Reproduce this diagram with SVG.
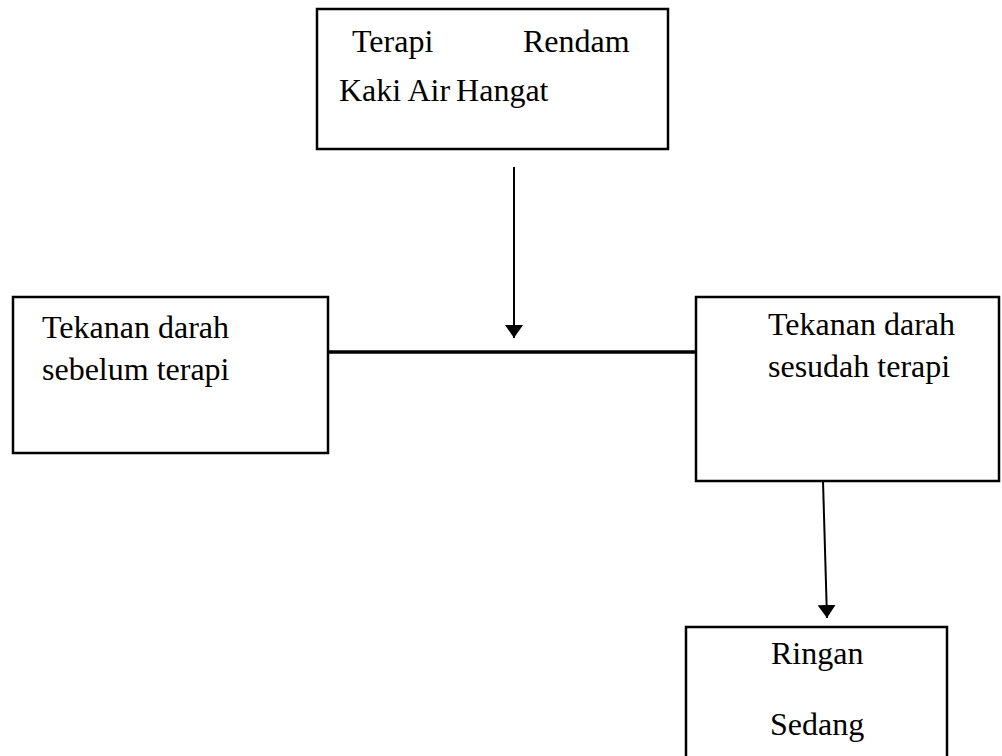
<svg xmlns="http://www.w3.org/2000/svg" width="1002" height="756" viewBox="0 0 1002 756">
  <style>
    .box { fill: #ffffff; stroke: #000000; stroke-width: 2.5; }
    .lbl { font-family: "Liberation Serif", "Times New Roman", serif; font-size: 32px; fill: #000000; }
    .conn { stroke: #000000; stroke-width: 2; fill: none; }
    .bar { stroke: #000000; stroke-width: 3.5; fill: none; }
  </style>
  <defs>
    <marker id="arrow" viewBox="0 0 13 18" refX="13" refY="9" markerWidth="13" markerHeight="18" markerUnits="userSpaceOnUse" orient="auto">
      <path d="M0,0 L13,9 L0,18 Z" fill="#000000"/>
    </marker>
  </defs>
  <rect width="1002" height="756" fill="#ffffff"/>

  <g id="node-terapi">
    <rect class="box" x="317" y="9" width="351" height="140"/>
    <text class="lbl" x="352" y="52">Terapi</text>
    <text class="lbl" x="523" y="52">Rendam</text>
    <text class="lbl" x="339" y="101">Kaki Air<tspan dx="-2"> Hangat</tspan></text>
  </g>

  <g id="node-sebelum">
    <rect class="box" x="13" y="297" width="315" height="156"/>
    <text class="lbl" x="42" y="338">Tekanan darah</text>
    <text class="lbl" x="42" y="380">sebelum terapi</text>
  </g>

  <g id="node-sesudah">
    <rect class="box" x="696" y="297" width="303" height="184"/>
    <text class="lbl" x="768" y="335">Tekanan darah</text>
    <text class="lbl" x="768" y="377">sesudah terapi</text>
  </g>

  <g id="node-hasil">
    <rect class="box" x="686" y="627" width="261" height="140"/>
    <text class="lbl" x="771" y="664">Ringan</text>
    <text class="lbl" x="770" y="735">Sedang</text>
  </g>

  <g id="connectors">
    <line class="bar" x1="328" y1="352" x2="696" y2="352"/>
    <line class="conn" x1="514" y1="167" x2="514" y2="338" marker-end="url(#arrow)"/>
    <line class="conn" x1="823" y1="481" x2="827" y2="618" marker-end="url(#arrow)"/>
  </g>
</svg>
